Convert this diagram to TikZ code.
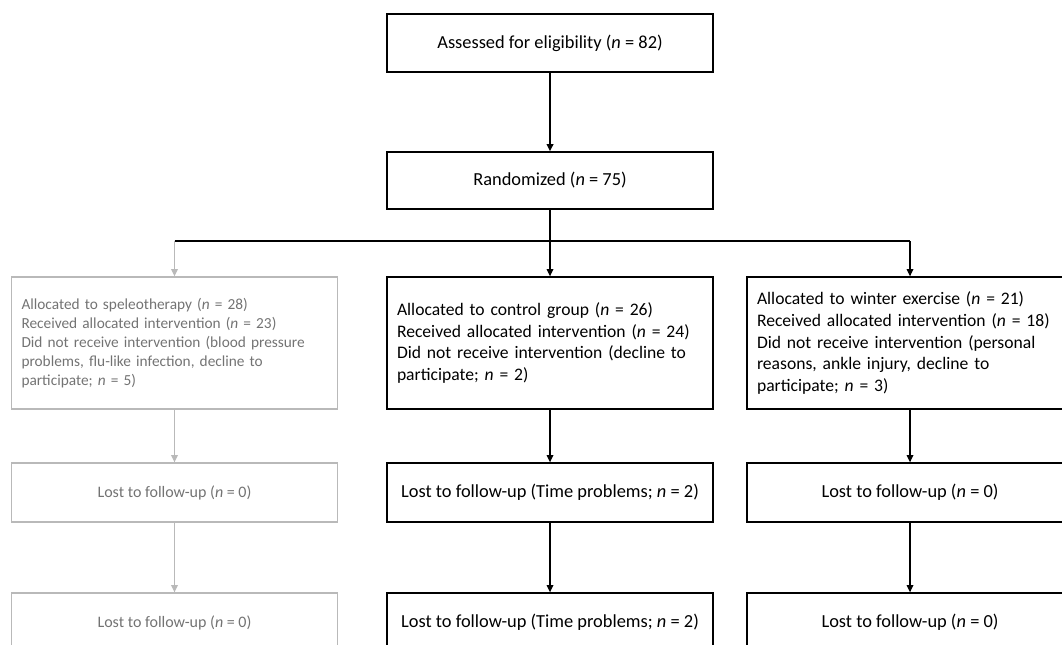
\documentclass[tikz,border=0pt]{standalone}
\usepackage{fontspec}
\setmainfont{Carlito}
\usepackage{tikz}
\usetikzlibrary{arrows.meta}

\definecolor{fadeline}{RGB}{185,185,185}
\definecolor{fadetext}{RGB}{115,115,115}

\begin{document}
\begin{tikzpicture}[
  x=0.75pt, y=-0.75pt,
  box/.style={rectangle, draw, line width=1pt, minimum width=244.5pt, inner sep=0pt, font=\fontsize{13.8}{16.8}\selectfont},
  groupbox/.style={box, text width=229.5pt, inner xsep=7.5pt, align=left, minimum height=99pt, font=\fontsize{13.2}{16.3}\selectfont},
  fadebox/.style={draw=fadeline, text=fadetext, font=\fontsize{12}{14.7}\selectfont},
  fadegroup/.style={draw=fadeline, text=fadetext, font=\fontsize{11.5}{14.25}\selectfont},
  flow/.style={draw, line width=0.9pt, -{Triangle[length=5.5pt,width=5pt]}},
  fadeflow/.style={flow, draw=fadeline, fill=fadeline}
]
  \clip (0,0) rectangle (1062,644);

  % Enrolment
  \node[box, minimum height=43.5pt] (elig) at (550, 43) {Assessed for eligibility (\textit{n} = 82)};
  \node[box, minimum height=42.75pt] (rand) at (550, 180.5) {Randomized (\textit{n} = 75)};
  \coordinate (split) at (550, 241);

  % Allocation
  \node[groupbox, fadegroup] (alloc1) at (174.5, 343) {Allocated to speleotherapy (\textit{n} = 28)\\
    Received allocated intervention (\textit{n} = 23)\\
    Did not receive intervention (blood pressure\\
    problems, flu-like infection, decline to\\
    participate;\ \textit{n} = 5)};
  \node[groupbox] (alloc2) at (550, 343) {Allocated to control group (\textit{n} = 26)\\
    Received allocated intervention (\textit{n} = 24)\\
    Did not receive intervention (decline to\\
    participate;\ \textit{n} = 2)};
  \node[groupbox] (alloc3) at (910, 343) {Allocated to winter exercise (\textit{n} = 21)\\
    Received allocated intervention (\textit{n} = 18)\\
    Did not receive intervention (personal\\
    reasons, ankle injury, decline to\\
    participate;\ \textit{n} = 3)};

  % Follow-up
  \node[box, fadebox, minimum height=44.25pt] (lost1a) at (174.5, 492.5) {Lost to follow-up (\textit{n} = 0)};
  \node[box, minimum height=44.25pt] (lost2a) at (550, 492.5) {Lost to follow-up (Time problems; \textit{n} = 2)};
  \node[box, minimum height=44.25pt] (lost3a) at (910, 492.5) {Lost to follow-up (\textit{n} = 0)};
  \node[box, fadebox, minimum height=44.25pt] (lost1b) at (174.5, 622.5) {Lost to follow-up (\textit{n} = 0)};
  \node[box, minimum height=44.25pt] (lost2b) at (550, 622.5) {Lost to follow-up (Time problems; \textit{n} = 2)};
  \node[box, minimum height=44.25pt] (lost3b) at (910, 622.5) {Lost to follow-up (\textit{n} = 0)};

  % Connectors
  \draw[flow, line width=1.6pt] (elig) -- (rand);
  \draw[line width=0.9pt] (rand) -- (split);
  \draw[line width=0.9pt] (split -| alloc1.north) -- (split -| alloc3.north);
  \draw[fadeflow] (split -| alloc1.north) -- (alloc1);
  \draw[flow] (split) -- (alloc2);
  \draw[flow] (split -| alloc3.north) -- (alloc3);
  \draw[fadeflow] (alloc1) -- (lost1a);
  \draw[fadeflow] (lost1a) -- (lost1b);
  \draw[flow] (alloc2) -- (lost2a);
  \draw[flow] (lost2a) -- (lost2b);
  \draw[flow] (alloc3) -- (lost3a);
  \draw[flow] (lost3a) -- (lost3b);
\end{tikzpicture}
\end{document}
